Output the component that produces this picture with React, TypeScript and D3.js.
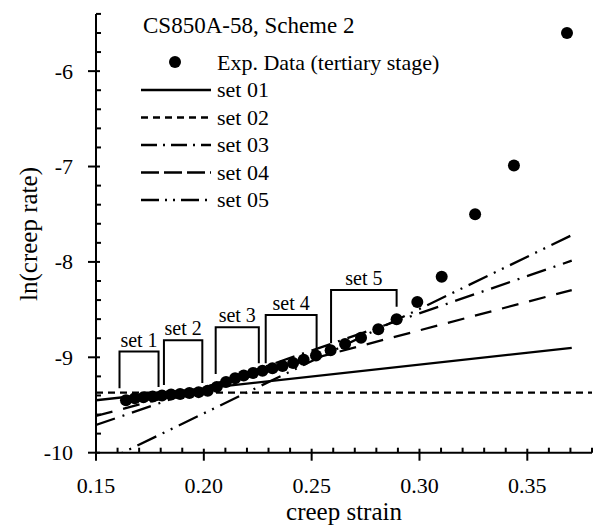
import React, { useEffect, useRef } from "react";
import * as d3 from "d3";

// experimental points (tertiary stage)
const expStrain = [0.1639, 0.168, 0.172, 0.1763, 0.1806, 0.1848, 0.189, 0.1933, 0.1976, 0.2018, 0.206, 0.2103, 0.2145, 0.2185, 0.2228, 0.2272, 0.2318, 0.2365, 0.2414, 0.2463, 0.252, 0.2588, 0.2655, 0.2729, 0.2809, 0.2894, 0.299, 0.3103, 0.3258, 0.3438, 0.3684];
const expLnRate = [-9.45, -9.43, -9.42, -9.41, -9.4, -9.39, -9.385, -9.375, -9.365, -9.35, -9.31, -9.26, -9.22, -9.19, -9.165, -9.14, -9.115, -9.09, -9.06, -9.025, -8.98, -8.925, -8.86, -8.795, -8.705, -8.6, -8.42, -8.155, -7.5, -6.99, -5.6];

// fitted lines, start and end points
const fitNames = ["set 01", "set 02", "set 03", "set 04", "set 05"];
const fitX0 = [0.15, 0.15, 0.15, 0.15, 0.15];
const fitY0 = [-9.45, -9.371, -9.71, -9.615, -10.135];
const fitX1 = [0.3706, 0.38, 0.3706, 0.3706, 0.3706];
const fitY1 = [-8.9, -9.371, -7.987, -8.295, -7.72];

// brackets marking the data sets
const bracketLabels = ["set 1", "set 2", "set 3", "set 4", "set 5"];
const bracketX0 = [0.1609, 0.1815, 0.2055, 0.2287, 0.259];
const bracketX1 = [0.179, 0.1993, 0.2255, 0.2523, 0.2894];
const bracketTop = [-8.94, -8.82, -8.686, -8.557, -8.295];
const bracketBot0 = [-9.325, -9.29, -9.175, -9.063, -8.853];
const bracketBot1 = [-9.31, -9.27, -9.063, -8.941, -8.47];

const xTicks = [0.15, 0.2, 0.25, 0.3, 0.35];
const yTicks = [-10, -9, -8, -7, -6];

const dashes = [null, "7,5", "20,8,2,8", "17,11", "21,7,2,7,2,7"];
const legendDashes = [null, "7,5", "16,6,2,6", "18,5", "18,6,2,6,2,6"];

const App = () => {
  const svgRef = useRef<SVGSVGElement>(null);

  useEffect(() => {
    const svg = d3.select(svgRef.current);
    svg.selectAll("*").remove();
    const font = "'Liberation Serif', 'Times New Roman', serif";

    const x = d3.scaleLinear().domain([0.15, 0.38]).range([96, 592]);
    const y = d3.scaleLinear().domain([-10, -5.4]).range([452.7, 13.9]);

    svg.append("clipPath").attr("id", "plotclip")
      .append("rect")
      .attr("x", x(0.15)).attr("y", y(-5.4))
      .attr("width", x(0.38) - x(0.15)).attr("height", y(-10) - y(-5.4));

    // fitted lines
    const line = d3.line<[number, number]>().x(d => x(d[0])).y(d => y(d[1]));
    const lines = svg.append("g").attr("clip-path", "url(#plotclip)");
    fitNames.forEach((name, i) => {
      lines.append("path")
        .attr("d", line([[fitX0[i], fitY0[i]], [fitX1[i], fitY1[i]]]))
        .attr("fill", "none")
        .attr("stroke", "#000")
        .attr("stroke-width", 2.3)
        .attr("stroke-dasharray", dashes[i]);
    });

    // brackets
    const br = svg.append("g");
    bracketLabels.forEach((lab, i) => {
      br.append("path")
        .attr("d", `M${x(bracketX0[i])},${y(bracketBot0[i])}V${y(bracketTop[i])}H${x(bracketX1[i])}V${y(bracketBot1[i])}`)
        .attr("fill", "none")
        .attr("stroke", "#000")
        .attr("stroke-width", 2);
      br.append("text")
        .attr("x", (x(bracketX0[i]) + x(bracketX1[i])) / 2)
        .attr("y", y(bracketTop[i]) - 5)
        .attr("text-anchor", "middle")
        .style("font-family", font)
        .style("font-size", "20px")
        .text(lab);
    });

    // experimental points
    svg.append("g").selectAll("circle")
      .data(expStrain)
      .join("circle")
      .attr("cx", d => x(d))
      .attr("cy", (d, i) => y(expLnRate[i]))
      .attr("r", 6)
      .attr("fill", "#000");

    // axes
    const ax = svg.append("g").attr("stroke", "#000").attr("stroke-width", 2);
    ax.append("line").attr("x1", x(0.15)).attr("x2", x(0.38)).attr("y1", y(-10)).attr("y2", y(-10));
    ax.append("line").attr("x1", x(0.15)).attr("x2", x(0.15)).attr("y1", y(-10)).attr("y2", y(-5.4));

    const xMinor = d3.range(16, 39).map(v => v / 100).filter(v => !xTicks.some(t => Math.abs(t - v) < 1e-6));
    xMinor.forEach(v => {
      ax.append("line").attr("x1", x(v)).attr("x2", x(v)).attr("y1", y(-10)).attr("y2", y(-10) - 5);
    });
    xTicks.forEach(v => {
      ax.append("line").attr("x1", x(v)).attr("x2", x(v)).attr("y1", y(-10) - 4).attr("y2", y(-10) + 8);
    });
    const yMinor = d3.range(0, 24).map(k => -10 + k * 0.2).filter(v => !yTicks.some(t => Math.abs(t - v) < 1e-6));
    yMinor.forEach(v => {
      ax.append("line").attr("x1", x(0.15)).attr("x2", x(0.15) + 5).attr("y1", y(v)).attr("y2", y(v));
    });
    yTicks.forEach(v => {
      ax.append("line").attr("x1", x(0.15) - 8).attr("x2", x(0.15) + 4).attr("y1", y(v)).attr("y2", y(v));
    });

    svg.append("g").selectAll("text")
      .data(xTicks)
      .join("text")
      .attr("x", d => x(d))
      .attr("y", y(-10) + 40)
      .attr("text-anchor", "middle")
      .style("font-family", font)
      .style("font-size", "22px")
      .text(d => d3.format(".2f")(d));

    svg.append("g").selectAll("text")
      .data(yTicks)
      .join("text")
      .attr("x", 73)
      .attr("y", d => y(d) + 7.5)
      .attr("text-anchor", "end")
      .style("font-family", font)
      .style("font-size", "22px")
      .text(d => String(d));

    svg.append("text")
      .attr("x", 344).attr("y", 520)
      .attr("text-anchor", "middle")
      .style("font-family", font)
      .style("font-size", "25px")
      .text("creep strain");

    svg.append("text")
      .attr("transform", "translate(37,234) rotate(-90)")
      .attr("text-anchor", "middle")
      .style("font-family", font)
      .style("font-size", "25px")
      .text("ln(creep rate)");

    // legend
    const lg = svg.append("g");
    lg.append("text")
      .attr("x", 143).attr("y", 33)
      .style("font-family", font)
      .style("font-size", "23px")
      .text("CS850A-58, Scheme 2");
    lg.append("circle").attr("cx", 175).attr("cy", 62).attr("r", 6).attr("fill", "#000");
    lg.append("text")
      .attr("x", 217).attr("y", 70)
      .style("font-family", font)
      .style("font-size", "22px")
      .text("Exp. Data (tertiary stage)");
    fitNames.forEach((name, i) => {
      const ry = 90 + i * 27.5;
      lg.append("line")
        .attr("x1", 141).attr("x2", 211).attr("y1", ry).attr("y2", ry)
        .attr("stroke", "#000").attr("stroke-width", 2.3)
        .attr("stroke-dasharray", legendDashes[i]);
      lg.append("text")
        .attr("x", 217).attr("y", ry + 7)
        .style("font-family", font)
        .style("font-size", "22px")
        .text(name);
    });
  }, []);

  return (
    <svg ref={svgRef} width={593} height={528}
      style={{ position: "absolute", left: 0, top: 0, background: "#fff" }} />
  );
};

export default App;
